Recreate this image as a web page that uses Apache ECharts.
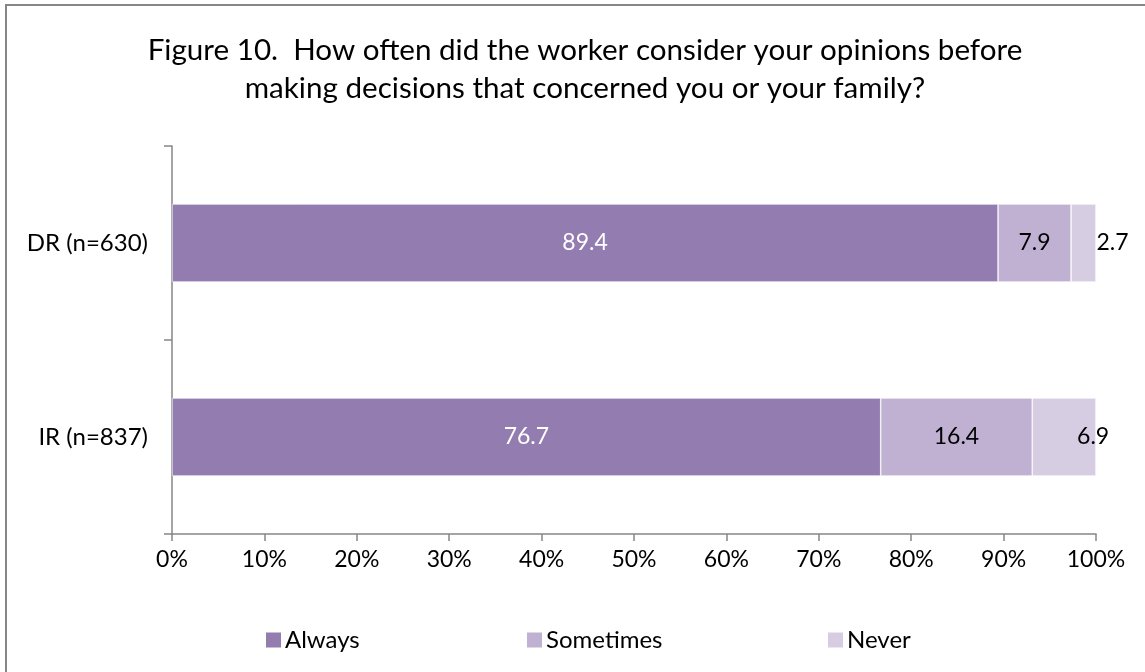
<!DOCTYPE html>
<html>
<head>
<meta charset="utf-8">
<script src="https://cdn.jsdelivr.net/npm/echarts@6/dist/echarts.min.js"></script>
<style>
  html, body { margin: 0; padding: 0; background: #fff; }
  #chart { width: 1145px; height: 672px; }
</style>
</head>
<body>
<div id="chart"></div>
<script>
// Survey responses by group (percent of respondents)
const categories = ['DR (n=630)', 'IR (n=837)'];
const always = [89.4, 76.7];
const sometimes = [7.9, 16.4];
const never = [2.7, 6.9];
const seriesNames = ['Always', 'Sometimes', 'Never'];
const xTicks = ['0%', '10%', '20%', '30%', '40%', '50%', '60%', '70%', '80%', '90%', '100%'];

const FONT = 'Lato, "Open Sans", sans-serif';
const colors = ['#937CB0', '#C0B1D3', '#D6CDE2'];

const chart = echarts.init(document.getElementById('chart'), null, { renderer: 'canvas' });

function bar(name, data, color, label) {
  return {
    name: name,
    type: 'bar',
    stack: 'total',
    data: data,
    barWidth: 78,
    itemStyle: { color: color, borderColor: '#ffffff', borderWidth: 0.6 },
    label: Object.assign({
      show: true,
      fontFamily: FONT,
      fontSize: 23,
      formatter: p => p.value.toFixed(1)
    }, label),
    silent: true
  };
}

chart.setOption({
  animation: false,
  title: {
    text: 'Figure 10.  How often did the worker consider your opinions before\nmaking decisions that concerned you or your family?',
    left: 580,
    top: 26,
    textAlign: 'center',
    textStyle: { fontFamily: FONT, fontSize: 29.6, fontWeight: 'normal', color: '#000', lineHeight: 38 }
  },
  graphic: [{
    type: 'rect',
    shape: { x: 6, y: 5, width: 1200, height: 700 },
    style: { fill: 'none', stroke: '#868686', lineWidth: 2 },
    silent: true
  }],
  legend: [
    { data: ['Always'], left: 261, top: 623 },
    { data: ['Sometimes'], left: 522, top: 623 },
    { data: ['Never'], left: 823, top: 623 }
  ].map(l => Object.assign(l, {
    itemWidth: 15, itemHeight: 15, itemGap: 0,
    icon: 'rect',
    itemStyle: { borderWidth: 0 },
    textStyle: { fontFamily: FONT, fontSize: 24, color: '#000', padding: [0, 0, 0, -1] }
  })),
  grid: { left: 172, right: 49, top: 146, bottom: 138, containLabel: false },
  xAxis: {
    type: 'value',
    min: 0, max: 100, interval: 10,
    axisLine: { show: true, lineStyle: { color: '#868686', width: 1.5 } },
    axisTick: { show: true, length: 7, lineStyle: { color: '#868686', width: 1.5 } },
    splitLine: { show: false },
    axisLabel: {
      fontFamily: FONT, fontSize: 23, color: '#000', margin: 14,
      formatter: (v) => xTicks[Math.round(v / 10)]
    }
  },
  yAxis: {
    type: 'category',
    data: categories,
    inverse: true,
    axisLine: { show: true, lineStyle: { color: '#868686', width: 1.5 } },
    axisTick: { show: true, length: 8, lineStyle: { color: '#868686', width: 1.5 } },
    axisLabel: { fontFamily: FONT, fontSize: 24, color: '#000', margin: 24 }
  },
  series: [
    bar(seriesNames[0], always, colors[0], { position: 'inside', color: '#ffffff' }),
    bar(seriesNames[1], sometimes, colors[1], { position: 'inside', color: '#000000' }),
    bar(seriesNames[2], never, colors[2], { position: 'inside', color: '#000000', offset: [29, 0] })
  ]
});
</script>
</body>
</html>
